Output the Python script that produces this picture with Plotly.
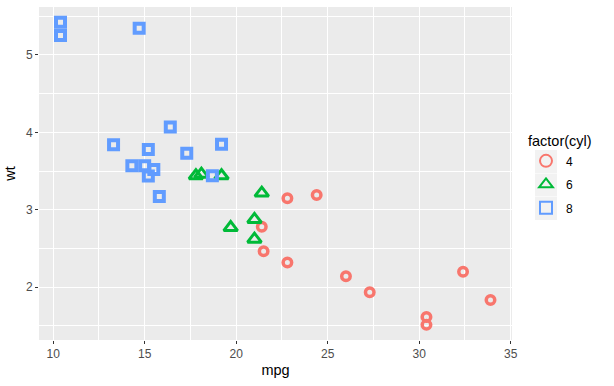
import plotly.graph_objects as go

mpg = [21.0, 21.0, 22.8, 21.4, 18.7, 18.1, 14.3, 24.4, 22.8, 19.2, 17.8, 16.4, 17.3, 15.2,
       10.4, 10.4, 14.7, 32.4, 30.4, 33.9, 21.5, 15.5, 15.2, 13.3, 19.2, 27.3, 26.0, 30.4,
       15.8, 19.7, 15.0, 21.4]
wt = [2.620, 2.875, 2.320, 3.215, 3.440, 3.460, 3.570, 3.190, 3.150, 3.440, 3.440, 4.070,
      3.730, 3.780, 5.250, 5.424, 5.345, 2.200, 1.615, 1.835, 2.465, 3.520, 3.435, 3.840,
      3.845, 1.935, 2.140, 1.513, 3.170, 2.770, 3.570, 2.780]
cyl = [6, 6, 4, 6, 8, 6, 8, 4, 4, 6, 6, 8, 8, 8, 8, 8, 8, 4, 4, 4, 4, 8, 8, 8, 8, 4, 4, 4,
       8, 6, 8, 4]

groups = [4, 6, 8]
colors = {4: "#F8766D", 6: "#00BA38", 8: "#619CFF"}
symbols = {4: "circle-open", 6: "triangle-up-open", 8: "square-open"}
sizes = {4: 8.5, 6: 12, 8: 9}
widths = {4: 3.5, 6: 3, 8: 4}

fig = go.Figure()
for g in groups:
    xs = [m for m, c in zip(mpg, cyl) if c == g]
    ys = [w for w, c in zip(wt, cyl) if c == g]
    fig.add_trace(go.Scatter(
        x=xs, y=ys, mode="markers", name=str(g), legendgroup=str(g),
        marker=dict(symbol=symbols[g], size=sizes[g], color=colors[g],
                    line=dict(width=widths[g], color=colors[g])),
    ))

# plot area in px: left 39, right 512, top 7, bottom 340
L, R, T, B = 39, 512, 7, 340
W, H = R - L, B - T


def px_x(p):
    return (p - L) / W


def px_y(p):
    return (B - p) / H


# gray legend key backgrounds
for (t, b) in [(150, 173), (173.5, 196.5), (197, 220)]:
    fig.add_shape(type="rect", xref="paper", yref="paper",
                  x0=px_x(535), x1=px_x(557), y0=px_y(b), y1=px_y(t),
                  fillcolor="#F2F2F2", line=dict(width=0), layer="below")

axis_font = dict(family="Liberation Sans, Arial, sans-serif", size=12, color="#4D4D4D")
fig.update_layout(
    width=614, height=386,
    margin=dict(l=L, r=614 - R, t=T, b=386 - B, autoexpand=False),
    paper_bgcolor="white", plot_bgcolor="#EBEBEB",
    font=dict(family="Liberation Sans, Arial, sans-serif", color="black"),
    showlegend=True,
    legend=dict(title=dict(text="factor(cyl)", font=dict(size=14.5, color="black")),
                x=px_x(526), y=px_y(127.5), xanchor="left", yanchor="top",
                font=dict(size=12, color="black"), bgcolor="rgba(0,0,0,0)",
                tracegroupgap=4.5, itemsizing="constant"),
    xaxis=dict(range=[9.225, 35.075], tickvals=[10, 15, 20, 25, 30, 35],
               showgrid=True, gridcolor="white", gridwidth=1.1, zeroline=False,
               ticks="outside", ticklen=3, tickcolor="#333333", tickwidth=1,
               tickfont=axis_font, showline=False, automargin=False,
               minor=dict(tick0=0, dtick=2.5, showgrid=True, gridcolor="white", gridwidth=0.5),
               title=dict(text="mpg", font=dict(size=14.5, color="black"), standoff=4)),
    yaxis=dict(range=[1.3175, 5.6195], tickvals=[2, 3, 4, 5],
               showgrid=True, gridcolor="white", gridwidth=1.1, zeroline=False,
               ticks="outside", ticklen=3, tickcolor="#333333", tickwidth=1,
               tickfont=axis_font, showline=False, automargin=False,
               minor=dict(tick0=0, dtick=0.5, showgrid=True, gridcolor="white", gridwidth=0.5),
               title=dict(text="wt", font=dict(size=14.5, color="black"), standoff=6)),
)

fig.write_html("out.html", config={"displayModeBar": False},
               post_script="document.body.style.margin='0';")
